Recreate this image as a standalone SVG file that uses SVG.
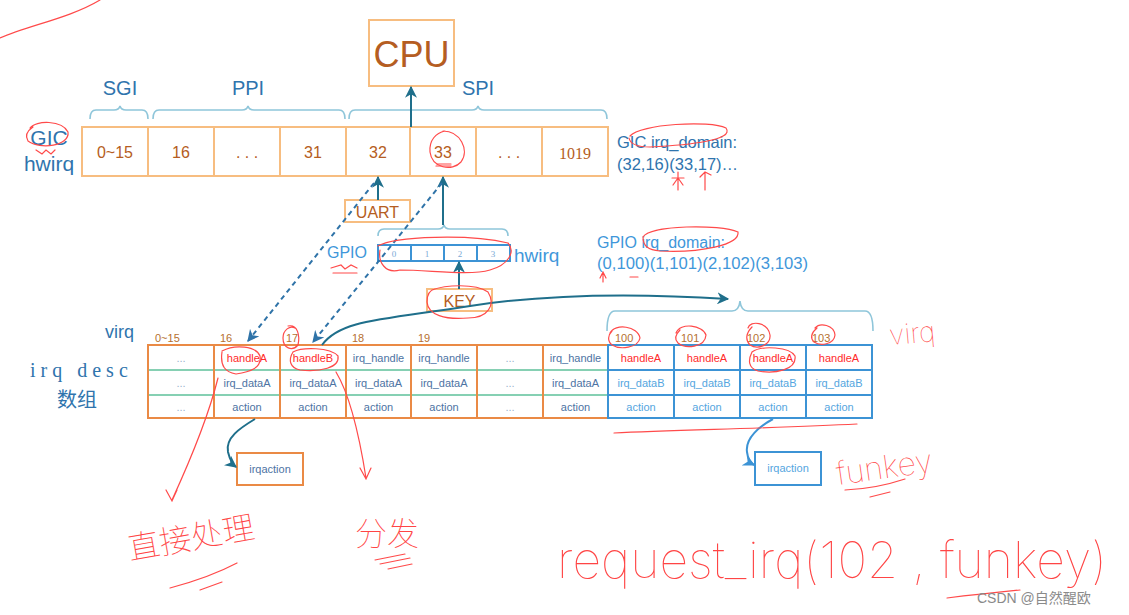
<svg xmlns="http://www.w3.org/2000/svg" width="1129" height="615" viewBox="0 0 1129 615">
<style>
.ob{fill:#fff;stroke:#f7bd80;stroke-width:2}
.tb{fill:none;stroke:#ea8a45;stroke-width:2}
.bb{fill:none;stroke:#3c93d5;stroke-width:2}
.br{fill:none;stroke:#8fc6da;stroke-width:1.6}
.brown{fill:#b55d22;font-family:"Liberation Sans",Arial,sans-serif}
.blue{fill:#2f74ad;font-family:"Liberation Sans",Arial,sans-serif}
.lblue{fill:#3f97da;font-family:"Liberation Sans",Arial,sans-serif}
.cell{font-family:"Liberation Sans",Arial,sans-serif;font-size:11px;text-anchor:middle}
.ct{fill:#4d73a3}
.cbt{fill:#55a6e0}
.dot{fill:#9ab3cc}
.red{fill:#ff2a2a}
.arr{fill:none;stroke:#1f6f8b;stroke-width:2}
.dash{fill:none;stroke:#2f73a8;stroke-width:2;stroke-dasharray:5 4}
.hw{fill:none;stroke:#ff4a4a;stroke-width:1.2;stroke-linecap:round}
.hwt{fill:#ff4545;font-family:Inter,Lato,"Liberation Sans",sans-serif;font-weight:100}
.hwc{fill:#ff4545;font-family:"Noto Sans CJK SC",sans-serif;font-weight:100}
.idx{fill:#b5702f;font-family:"Liberation Sans",Arial,sans-serif;font-size:11px}
</style>
<defs>
<marker id="ah2" viewBox="0 0 10 10" refX="9" refY="5" markerWidth="12" markerHeight="12" orient="auto" markerUnits="userSpaceOnUse"><path d="M0,0 L10,5 L0,10 L3,5 Z" fill="#1f6f8b"/></marker>
<marker id="ahd" viewBox="0 0 10 10" refX="9" refY="5" markerWidth="12" markerHeight="12" orient="auto" markerUnits="userSpaceOnUse"><path d="M0,0 L10,5 L0,10 L3,5 Z" fill="#2f73a8"/></marker>
<marker id="ahb" viewBox="0 0 10 10" refX="9" refY="5" markerWidth="12" markerHeight="12" orient="auto" markerUnits="userSpaceOnUse"><path d="M0,0 L10,5 L0,10 L3,5 Z" fill="#3c93d5"/></marker>
</defs>
<rect width="1129" height="615" fill="#fff"/>

<g id="cpu">
<rect class="ob" x="369" y="20" width="85" height="66"/>
<text class="brown" x="411.5" y="67" font-size="36" text-anchor="middle">CPU</text>
</g>

<g id="gic-braces">
<path class="br" d="M90,119 Q90,110 96,110 L114,110 Q119,110 120,106 Q121,110 126,110 L142,110 Q148,110 148,119"/>
<path class="br" d="M153,119 Q153,110 159,110 L242,110 Q247,110 248,106 Q249,110 254,110 L339,110 Q345,110 345,119"/>
<path class="br" d="M349,119 Q349,110 355,110 L472,110 Q477,110 478,106 Q479,110 484,110 L601,110 Q607,110 607,119"/>
<text class="blue" x="120" y="95" font-size="20" text-anchor="middle">SGI</text>
<text class="blue" x="248" y="95" font-size="20" text-anchor="middle">PPI</text>
<text class="blue" x="478" y="95" font-size="20" text-anchor="middle">SPI</text>
</g>

<g id="gic-hwirq">
<text class="blue" x="49" y="145" font-size="21" text-anchor="middle">GIC</text>
<text class="blue" x="49" y="171" font-size="21" text-anchor="middle">hwirq</text>
<rect class="ob" x="82" y="127" width="526" height="49"/>
<path fill="none" stroke="#f7bd80" stroke-width="2" d="M148,127V176M214,127V176M280,127V176M346,127V176M410,127V176M476,127V176M542,127V176"/>
<g class="brown" font-size="16" text-anchor="middle">
<text x="115" y="158">0~15</text>
<text x="181" y="158">16</text>
<text x="247" y="158">. . .</text>
<text x="313" y="158">31</text>
<text x="378" y="158">32</text>
<text x="443" y="158">33</text>
<text x="509" y="158">. . .</text>
<text x="575" y="159" font-family="Liberation Serif,serif">1019</text>
</g>
</g>

<g id="gic-domain">
<text class="blue" x="617" y="148" font-size="16.5">GIC irq_domain:</text>
<text class="blue" x="617" y="170" font-size="16.5">(32,16)(33,17)…</text>
</g>

<g id="uart">
<rect class="ob" x="345" y="200" width="65" height="22"/>
<text class="brown" x="377.5" y="218" font-size="16" text-anchor="middle">UART</text>
</g>

<g id="gpio">
<path class="br" d="M378,236 Q378,229 384,229 L438,229 Q443,229 444,225 Q445,229 450,229 L502,229 Q508,229 508,236"/>
<text class="lblue" x="327" y="258" font-size="16">GPIO</text>
<rect fill="#fff" stroke="#3c93d5" stroke-width="2" x="378" y="245" width="132" height="16"/>
<path fill="none" stroke="#3c93d5" stroke-width="2" d="M411,245V261M444,245V261M477,245V261"/>
<g font-family="Liberation Serif,serif" font-size="9" fill="#7aa9d6" text-anchor="middle">
<text x="394" y="257">0</text><text x="427" y="257">1</text><text x="460" y="257">2</text><text x="493" y="257">3</text>
</g>
<text class="lblue" x="514" y="262" font-size="19">hwirq</text>
</g>

<g id="gpio-domain">
<text class="lblue" x="597" y="248" font-size="16">GPIO irq_domain:</text>
<text class="lblue" x="597" y="269" font-size="16" textLength="211" lengthAdjust="spacingAndGlyphs">(0,100)(1,101)(2,102)(3,103)</text>
</g>

<g id="key">
<rect class="ob" x="427" y="289" width="65" height="22"/>
<text class="brown" x="459.5" y="307" font-size="16" text-anchor="middle">KEY</text>
</g>

<g id="labels-left">
<text class="blue" x="105" y="338" font-size="18">virq</text>
<text x="30" y="377" font-size="20" fill="#2f74ad" font-family="Liberation Serif,serif" letter-spacing="5">irq desc</text>
<text x="57" y="407" font-size="20" fill="#2f74ad" font-family="Noto Sans CJK SC,sans-serif">数组</text>
</g>

<g id="irq-desc-table">
<g class="idx">
<text x="155" y="342">0~15</text><text x="220" y="342">16</text><text x="286" y="342">17</text>
<text x="352" y="342">18</text><text x="418" y="342">19</text>
<text x="615" y="342">100</text><text x="681" y="342">101</text><text x="747" y="342">102</text><text x="812" y="342">103</text>
</g>
<path fill="none" stroke="#86d0b3" stroke-width="2" d="M148,370H608M148,395H608"/>
<rect class="tb" x="148" y="345" width="460" height="73"/>
<path class="tb" d="M214,345V418M280,345V418M346,345V418M411,345V418M477,345V418M543,345V418"/>
<rect class="bb" x="608" y="345" width="264" height="73"/>
<path class="bb" d="M608,370H872M608,395H872M674,345V418M740,345V418M806,345V418"/>
<g class="cell">
<text class="dot" x="181" y="362">...</text><text class="dot" x="181" y="387">...</text><text class="dot" x="181" y="411">...</text>
<text class="red" x="247" y="362">handleA</text><text class="ct" x="247" y="387">irq_dataA</text><text class="ct" x="247" y="411">action</text>
<text class="red" x="313" y="362">handleB</text><text class="ct" x="313" y="387">irq_dataA</text><text class="ct" x="313" y="411">action</text>
<text class="ct" x="378.5" y="362">irq_handle</text><text class="ct" x="378.5" y="387">irq_dataA</text><text class="ct" x="378.5" y="411">action</text>
<text class="ct" x="444" y="362">irq_handle</text><text class="ct" x="444" y="387">irq_dataA</text><text class="ct" x="444" y="411">action</text>
<text class="dot" x="510" y="362">...</text><text class="dot" x="510" y="387">...</text><text class="dot" x="510" y="411">...</text>
<text class="ct" x="575.5" y="362">irq_handle</text><text class="ct" x="575.5" y="387">irq_dataA</text><text class="ct" x="575.5" y="411">action</text>
<text class="red" x="641" y="362">handleA</text><text class="cbt" x="641" y="387">irq_dataB</text><text class="cbt" x="641" y="411">action</text>
<text class="red" x="707" y="362">handleA</text><text class="cbt" x="707" y="387">irq_dataB</text><text class="cbt" x="707" y="411">action</text>
<text class="red" x="773" y="362">handleA</text><text class="cbt" x="773" y="387">irq_dataB</text><text class="cbt" x="773" y="411">action</text>
<text class="red" x="839" y="362">handleA</text><text class="cbt" x="839" y="387">irq_dataB</text><text class="cbt" x="839" y="411">action</text>
</g>
<path class="br" d="M607,331 Q607,311 615,311 L732,311 Q739,311 740,301 Q741,311 748,311 L865,311 Q873,311 873,331"/>
</g>

<g id="irqaction-left">
<rect class="tb" x="237" y="453" width="66" height="32"/>
<text class="cell ct" x="270" y="473">irqaction</text>
</g>
<g id="irqaction-right">
<rect class="bb" x="755" y="452" width="66" height="33"/>
<text class="cell cbt" x="788" y="472">irqaction</text>
</g>

<g id="connectors">
<line class="arr" x1="411" y1="127" x2="411" y2="87" marker-end="url(#ah2)"/>
<line class="arr" x1="378" y1="200" x2="378" y2="177" marker-end="url(#ah2)"/>
<line class="arr" x1="443" y1="225" x2="443" y2="177" marker-end="url(#ah2)"/>
<line class="arr" x1="459" y1="289" x2="459" y2="262" marker-end="url(#ah2)"/>
<line class="dash" x1="374" y1="183" x2="248" y2="341" marker-end="url(#ahd)"/>
<line class="dash" x1="442" y1="183" x2="313" y2="342" marker-end="url(#ahd)"/>
<path class="arr" d="M322,345 C340,320 380,320 470,306 C560,292 650,294 728,299" marker-end="url(#ah2)"/>
<path class="arr" d="M255,419 C240,428 225,438 228,452 C230,460 232,464 236,467" marker-end="url(#ah2)"/>
<path fill="none" stroke="#3c93d5" stroke-width="2" d="M773,419 C760,426 745,438 747,452 C748,460 750,463 754,465" marker-end="url(#ahb)"/>
</g>

<g id="annotations">
<path class="hw" d="M0,38 C30,25 70,18 100,0"/>
<path class="hw" d="M30,128 C36,120 62,120 68,132 C70,146 40,150 28,141 C25,136 27,131 33,127"/>
<path class="hw" d="M36,150 l6,4 l4,-4 l5,4 l4,-4"/>
<path class="hw" d="M630,136 C640,124 710,120 726,128 C735,140 690,145 650,147 C636,147 630,143 629,138"/>
<path class="hw" d="M443,131 C460,131 470,150 461,162 C452,172 432,168 430,152 C429,140 436,133 445,131"/>
<path class="hw" d="M437,164 h14 M436,166 h15"/>
<path class="hw" d="M678,172 v18 M672,178 h12 M673,185 l5,-7 l5,7 M705,172 v18 M700,177 l5,-5 l6,3"/>
<path class="hw" d="M378,246 C395,236 470,234 508,243 C516,252 508,265 490,270 C470,276 430,270 400,270 C385,274 378,262 380,250"/>
<path class="hw" d="M331,268 l10,-3 l4,4 l6,-4 l6,3 M333,273 h24"/>
<path class="hw" d="M643,237 C650,225 720,224 738,232 C740,245 700,253 660,251 C648,250 643,246 643,237"/>
<path class="hw" d="M603,272 v10 M600,278 l3,-6 l3,6 M630,277 h8"/>
<path class="hw" d="M432,290 C445,285 475,283 488,292 C496,305 488,318 468,318 C445,320 428,315 427,302 C427,294 430,290 435,289"/>
<path class="hw" d="M222,351 C235,344 256,346 260,356 C262,368 250,372 236,374 C225,372 220,366 222,352"/>
<path class="hw" d="M218,378 C210,410 195,450 172,500 M166,490 l6,11 l5,-11"/>
<path class="hw" d="M288,326 C298,324 300,336 298,345 C292,352 283,348 283,338 C283,330 290,325 295,328"/>
<path class="hw" d="M293,352 C302,347 330,347 338,356 C340,368 320,372 300,370 C290,368 288,360 293,352"/>
<path class="hw" d="M336,372 C350,395 360,440 366,478 M360,468 l6,11 l5,-11"/>
<path class="hw" d="M610,333 C615,323 638,326 640,338 C638,348 620,350 612,345 C607,341 608,335 612,331"/>
<path class="hw" d="M676,333 C680,322 703,325 706,335 C705,348 685,349 678,343 C674,339 675,335 680,330"/>
<path class="hw" d="M748,328 C750,320 768,322 770,335 C771,345 758,350 750,345 C745,340 746,333 752,327"/>
<path class="hw" d="M815,328 C820,322 834,325 835,335 C834,345 820,346 814,342 C810,338 811,333 817,328"/>
<path class="hw" d="M752,352 C762,345 790,347 795,356 C797,370 775,374 758,371 C748,368 748,360 752,352"/>
<path class="hw" d="M614,433 C680,430 780,428 857,424"/>
<text class="hwt" x="890" y="345" font-size="28" transform="rotate(-5 890 345)">virq</text>
<text class="hwt" x="838" y="485" font-size="32" transform="rotate(-8 838 485)">funkey</text>
<path class="hw" d="M845,490 C870,489 890,484 905,479 M870,497 l20,-5"/>
<text class="hwc" x="130" y="560" font-size="32" transform="rotate(-10 130 560)">直接处理</text>
<path class="hw" d="M170,588 C200,580 220,572 237,563 M200,590 l22,-8"/>
<text class="hwc" x="355" y="545" font-size="32">分发</text>
<path class="hw" d="M375,560 l30,-6 M380,564 l30,-6 M388,569 l24,-5"/>
<text class="hwt" x="557" y="578" font-size="50" textLength="550" lengthAdjust="spacingAndGlyphs">request_irq(102 , funkey)</text>
<path class="hw" d="M947,598 C980,594 1000,592 1020,590"/>
</g>

<g id="watermark">
<text x="977" y="603" font-size="14" fill="#8a8a8a" font-family="Liberation Sans,Noto Sans CJK SC,sans-serif">CSDN @自然醒欧</text>
</g>
</svg>
